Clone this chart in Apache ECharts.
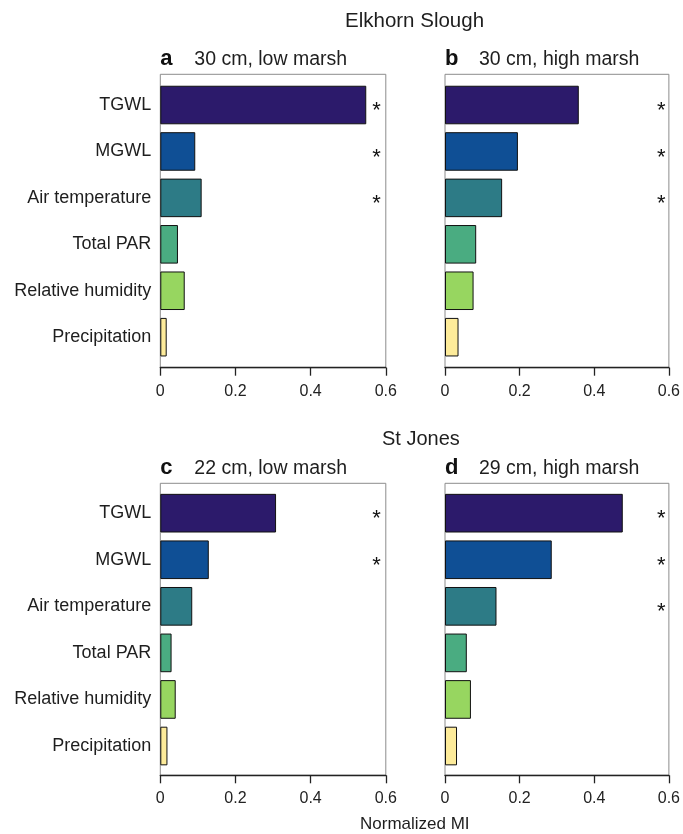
<!DOCTYPE html>
<html>
<head>
<meta charset="utf-8">
<script src="https://cdn.jsdelivr.net/npm/echarts@6/dist/echarts.min.js"></script>
<style>
  html, body { margin: 0; padding: 0; background: #fff; }
  #chart { width: 683px; height: 834px; }
</style>
</head>
<body>
<div id="chart"></div>
<script>
// Predictor variables, listed top to bottom
const variables = ['TGWL', 'MGWL', 'Air temperature', 'Total PAR', 'Relative humidity', 'Precipitation'];
const barColors = ['#2c1a6b', '#0f4f95', '#2d7b86', '#4aac81', '#97d660', '#fdeb9a'];

// Normalized mutual information per variable
const miA = [0.548, 0.093, 0.110, 0.047, 0.065, 0.017];   // Elkhorn Slough, 30 cm, low marsh
const miB = [0.356, 0.194, 0.152, 0.083, 0.076, 0.036];   // Elkhorn Slough, 30 cm, high marsh
const miC = [0.308, 0.129, 0.085, 0.030, 0.041, 0.019];   // St Jones, 22 cm, low marsh
const miD = [0.473, 0.284, 0.137, 0.058, 0.069, 0.032];   // St Jones, 29 cm, high marsh

// Significance flags (1 = significant, shown with an asterisk)
const sigA = [1, 1, 1, 0, 0, 0];
const sigB = [1, 1, 1, 0, 0, 0];
const sigC = [1, 1, 0, 0, 0, 0];
const sigD = [1, 1, 1, 0, 0, 0];

// Panel headings
const siteNames = ['Elkhorn Slough', 'St Jones'];
const panelLetters = ['a', 'b', 'c', 'd'];
const panelTitles = ['30 cm, low marsh', '30 cm, high marsh', '22 cm, low marsh', '29 cm, high marsh'];

// Shared x axis
const xMin = 0, xMax = 0.6, xStep = 0.2;
const xTickLabels = ['0', '0.2', '0.4', '0.6'];
const xAxisName = 'Normalized MI';

const FONT = "'Liberation Sans', Arial, sans-serif";

const panels = [
  { mi: miA, sig: sigA, left: 160.3, frameTop: 74.3, frameH: 293.4, innerTop: 81.8, innerH: 278.6, labels: true },
  { mi: miB, sig: sigB, left: 445.0, frameTop: 74.3, frameH: 293.4, innerTop: 81.8, innerH: 278.6, labels: false },
  { mi: miC, sig: sigC, left: 160.3, frameTop: 483.3, frameH: 292.0, innerTop: 489.9, innerH: 279.4, labels: true },
  { mi: miD, sig: sigD, left: 445.0, frameTop: 483.3, frameH: 292.0, innerTop: 489.9, innerH: 279.4, labels: false }
];
const panelWidth = 225.5;

const grid = [], xAxis = [], yAxis = [], series = [], title = [];

panels.forEach((p, i) => {
  // outer frame grid carrying the visible x axis
  const gOuter = grid.length;
  grid.push({
    left: p.left, top: p.frameTop, width: panelWidth, height: p.frameH,
    show: true, borderColor: '#8c8c8c', borderWidth: 1, backgroundColor: 'transparent'
  });
  xAxis.push({
    gridIndex: gOuter, type: 'value', min: xMin, max: xMax, interval: xStep,
    axisLine: { show: true, lineStyle: { color: '#222', width: 1.3 } },
    axisTick: { show: true, length: 8, lineStyle: { color: '#222', width: 1.3 } },
    splitLine: { show: false },
    axisLabel: {
      margin: 15.5, color: '#222', fontSize: 16, fontFamily: FONT,
      formatter: v => xTickLabels[Math.round((v - xMin) / xStep)]
    }
  });
  yAxis.push({ gridIndex: gOuter, type: 'value', show: false });

  // inner grid holding the category bands
  const gInner = grid.length;
  grid.push({ left: p.left, top: p.innerTop, width: panelWidth, height: p.innerH });
  const xi = xAxis.length;
  xAxis.push({ gridIndex: gInner, type: 'value', min: xMin, max: xMax, show: false });
  const yi = yAxis.length;
  yAxis.push({
    gridIndex: gInner, type: 'category', data: variables, inverse: true,
    axisLine: { show: false }, axisTick: { show: false }, splitLine: { show: false },
    axisLabel: { show: p.labels, margin: 9, color: '#1e1e1e', fontSize: 18, fontFamily: FONT }
  });
  // right-hand category axis used for significance asterisks
  yAxis.push({
    gridIndex: gInner, type: 'category', data: variables, inverse: true, position: 'right',
    axisLine: { show: false }, axisTick: { show: false }, splitLine: { show: false },
    axisLabel: {
      inside: true, margin: 5, color: '#111', fontSize: 22, fontFamily: FONT,
      verticalAlign: 'top', lineHeight: 12,
      formatter: (v, idx) => (p.sig[idx] ? '*' : '')
    }
  });

  series.push({
    type: 'bar', xAxisIndex: xi, yAxisIndex: yi,
    barCategoryGap: '17%',
    data: p.mi.map((v, k) => ({
      value: v,
      itemStyle: { color: barColors[k], borderColor: '#111', borderWidth: 1 }
    })),
    silent: true, animation: false
  });

  // panel heading: bold letter + description
  title.push({
    text: '{l|' + panelLetters[i] + '}{t|' + panelTitles[i] + '}',
    left: p.left - 5, top: p.frameTop - 31,
    textStyle: {
      rich: {
        l: { fontSize: 22, fontWeight: 'bold', fontFamily: FONT, color: '#111', width: 34 },
        t: { fontSize: 19.5, fontWeight: 'normal', fontFamily: FONT, color: '#1e1e1e' }
      }
    }
  });
});

// site headings, centred over the plotting columns
title.push({ text: siteNames[0], left: 340, top: 6,
  textStyle: { fontSize: 20.5, fontWeight: 'normal', fontFamily: FONT, color: '#1e1e1e' } });
title.push({ text: siteNames[1], left: 377, top: 424,
  textStyle: { fontSize: 20, fontWeight: 'normal', fontFamily: FONT, color: '#1e1e1e' } });
// shared x axis name
title.push({ text: xAxisName, left: 355, top: 811,
  textStyle: { fontSize: 17, fontWeight: 'normal', fontFamily: FONT, color: '#1e1e1e' } });

const chart = echarts.init(document.getElementById('chart'), null, { renderer: 'canvas' });
chart.setOption({
  backgroundColor: '#ffffff',
  animation: false,
  title, grid, xAxis, yAxis, series
});
</script>
</body>
</html>
